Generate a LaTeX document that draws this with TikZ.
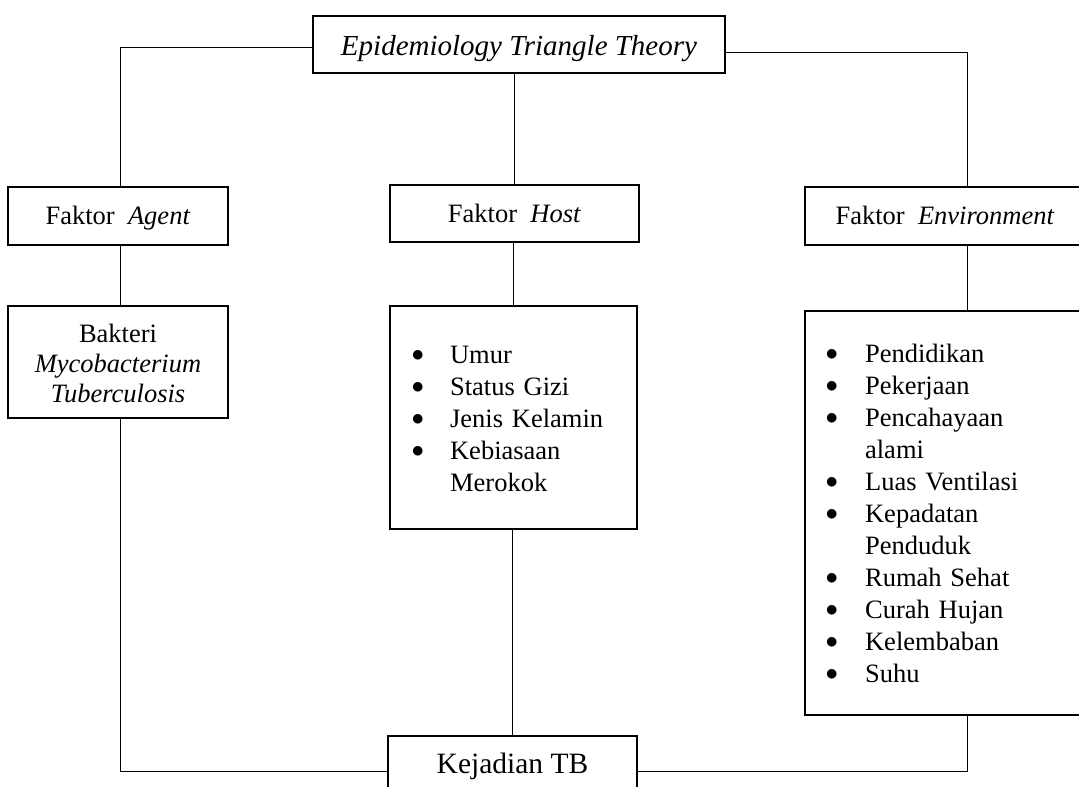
\documentclass[tikz,border=0pt]{standalone}
\usepackage{fontspec}
\setmainfont{Liberation Serif}
\newcommand{\blt}{\raisebox{1.5pt}{$\bullet$}}
\begin{document}
\begin{tikzpicture}[x=1pt,y=-1pt,
  box/.style={draw,line width=1.8pt,inner sep=0pt,font=\fontsize{26.5}{32}\selectfont},
  onebox/.style={box,text height=17pt,text depth=0pt},
  conn/.style={line width=0.9pt},
  listbox/.style={box,align=left,text height=0pt}]
\path[use as bounding box,fill=white] (0,0) rectangle (1079,787);
\clip (0,0) rectangle (1079,787);
\coordinate (ex) at (967,0);
\node[box,minimum width=412pt,minimum height=57pt,text height=21pt,text depth=0pt,font=\fontsize{29}{32}\selectfont] (title) at (519,44.5) {\textit{Epidemiology Triangle Theory}};
\node[onebox,minimum width=220pt,minimum height=58pt] (agent) at (118,216) {Faktor\ \ \textit{Agent}};
\node[onebox,minimum width=249pt,minimum height=57pt] (host) at (514.5,213.5) {Faktor\ \ \textit{Host}};
\node[onebox,minimum width=280pt,minimum height=58pt] (env) at (945,216) {Faktor\ \ \textit{Environment}};
\node[box,minimum width=220pt,minimum height=112pt,text width=220pt,align=center,text height=0pt,text depth=40pt,font=\fontsize{26.5}{30}\selectfont] (bakteri) at (118,362) {Bakteri\\\textit{Mycobacterium}\\\textit{Tuberculosis}};
\node[listbox,minimum width=247pt,minimum height=223pt,inner xsep=21.4pt,text width=204pt,text depth=109pt] (hostlist) at (513.5,417.5) {%
\begin{tabular}[t]{@{}p{38.6pt}@{}l@{}}
\blt & Umur\\
\blt & Status Gizi\\
\blt & Jenis Kelamin\\
\blt & Kebiasaan\\
 & Merokok
\end{tabular}};
\node[listbox,minimum width=285pt,minimum height=404pt,inner xsep=20.4pt,text width=244pt,text depth=302pt] (envlist) at (947.5,513) {%
\begin{tabular}[t]{@{}p{39.6pt}@{}l@{}}
\blt & Pendidikan\\
\blt & Pekerjaan\\
\blt & Pencahayaan\\
 & alami\\
\blt & Luas Ventilasi\\
\blt & Kepadatan\\
 & Penduduk\\
\blt & Rumah Sehat\\
\blt & Curah Hujan\\
\blt & Kelembaban\\
\blt & Suhu
\end{tabular}};
\node[box,minimum width=249pt,minimum height=54pt,text height=20pt,text depth=0pt,font=\fontsize{29.5}{32}\selectfont] (tb) at (512.5,763) {Kejadian TB};
% connectors
\draw[conn] ([yshift=-2.5pt]title.west) -| ([xshift=2pt]agent.north);
\draw[conn] ([yshift=-7.5pt]title.east) -| (env.north -| ex);
\draw[conn] (title.south -| host.north) -- (host.north);
\draw[conn] ([xshift=2pt]agent.south) -- ([xshift=2pt]bakteri.north);
\draw[conn] (host.south -| hostlist.north) -- (hostlist.north);
\draw[conn] (env.south -| ex) -- (envlist.north -| ex);
\draw[conn] ([xshift=2pt]bakteri.south) |- ([yshift=-8pt]tb.west);
\draw[conn] (hostlist.south -| tb.north) -- (tb.north);
\draw[conn] (envlist.south -| ex) |- ([yshift=-8pt]tb.east);
\end{tikzpicture}
\end{document}
